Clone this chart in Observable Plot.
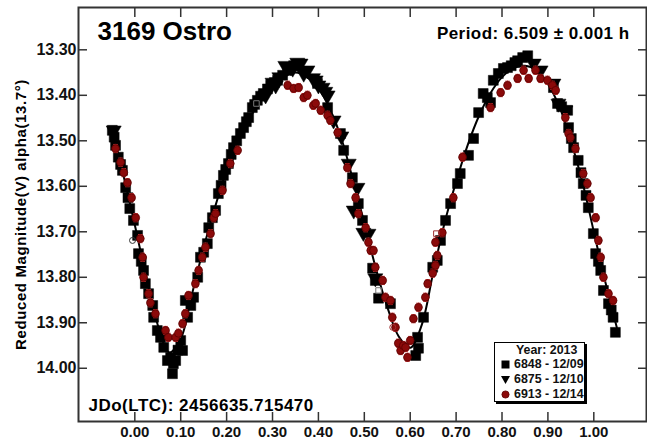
<!DOCTYPE html>
<html><head><meta charset="utf-8">
<script src="https://cdn.jsdelivr.net/npm/d3@7"></script>
<script src="https://cdn.jsdelivr.net/npm/@observablehq/plot@0.6"></script>
<style>
body{margin:0;background:#fff;}
#wrap{position:relative;width:647px;height:440px;font-family:"Liberation Sans",Arial,sans-serif;font-weight:bold;color:#111;}
#legend{position:absolute;left:494px;top:342px;width:91px;height:60px;border:1px solid #000;background:#fff;box-shadow:2px 2px 0 #000;font-size:12.4px;line-height:15px;box-sizing:border-box;}
#legend .hd{position:absolute;left:21px;top:0px;white-space:nowrap;}
#legend .row{position:absolute;left:6px;white-space:nowrap;display:flex;align-items:center;}
#legend svg{margin-right:4px;}
</style></head><body><div id="wrap"></div>
<script>
const titleText = "3169 Ostro";
const periodText = "Period: 6.509 \u00b1 0.001 h";
const epochText = "JDo(LTC): 2456635.715470";
const yTitle = "Reduced Magnitude(V) alpha(13.7\u00b0)";
const legendTitle = "Year: 2013";
const legendLabels = ["6848 - 12/09", "6875 - 12/10", "6913 - 12/14"];
const xTicks = [0, 0.1, 0.2, 0.3, 0.4, 0.5, 0.6, 0.7, 0.8, 0.9, 1.0];
const yTicks = [13.3, 13.4, 13.5, 13.6, 13.7, 13.8, 13.9, 14.0];

// series 6848 (squares): [phase, mag]
const squares = [[-0.049,13.477],[-0.045,13.492],[-0.042,13.510],[-0.036,13.536],[-0.031,13.552],[-0.027,13.565],[-0.020,13.603],[-0.015,13.625],[-0.011,13.649],[-0.003,13.675],[0.006,13.708],[0.008,13.748],[0.014,13.765],[0.019,13.785],[0.023,13.814],[0.030,13.836],[0.039,13.862],[0.041,13.888],[0.049,13.917],[0.056,13.932],[0.063,13.954],[0.071,13.983],[0.078,13.976],[0.084,13.990],[0.082,14.012],[0.089,13.983],[0.094,13.960],[0.104,13.961],[0.100,13.939],[0.110,13.851],[0.115,13.888],[0.122,13.862],[0.128,13.844],[0.137,13.800],[0.143,13.756],[0.150,13.745],[0.158,13.726],[0.161,13.691],[0.169,13.669],[0.176,13.653],[0.182,13.616],[0.188,13.598],[0.193,13.576],[0.198,13.563],[0.204,13.550],[0.210,13.530],[0.215,13.515],[0.222,13.500],[0.230,13.484],[0.237,13.471],[0.243,13.458],[0.248,13.449],[0.256,13.427],[0.261,13.420],[0.267,13.411],[0.274,13.402],[0.280,13.396],[0.289,13.386],[0.296,13.378],[0.304,13.372],[0.311,13.367],[0.322,13.356],[0.333,13.345],[0.346,13.335],[0.398,13.374],[0.420,13.427],[0.448,13.484],[0.455,13.521],[0.474,13.581],[0.487,13.638],[0.496,13.675],[0.518,13.780],[0.524,13.807],[0.531,13.846],[0.557,13.858],[0.616,13.932],[0.618,13.956],[0.612,13.972],[0.629,13.888],[0.649,13.778],[0.659,13.763],[0.666,13.719],[0.677,13.675],[0.688,13.638],[0.703,13.594],[0.709,13.572],[0.727,13.532],[0.738,13.495],[0.749,13.438],[0.759,13.396],[0.768,13.405],[0.775,13.416],[0.781,13.367],[0.792,13.352],[0.803,13.341],[0.812,13.339],[0.820,13.335],[0.828,13.328],[0.834,13.324],[0.845,13.317],[0.856,13.313],[0.912,13.383],[0.921,13.418],[0.930,13.425],[0.943,13.433],[0.945,13.471],[0.951,13.495],[0.956,13.515],[0.966,13.543],[0.972,13.570],[0.977,13.594],[0.983,13.620],[0.988,13.647],[0.999,13.704],[1.004,13.748],[1.010,13.765],[1.015,13.785],[1.021,13.829],[1.032,13.858],[1.038,13.872],[1.042,13.888],[1.047,13.921]];

// series 6875 (triangles)
const triangles = [[-0.046,13.477],[0.285,13.400],[0.300,13.372],[0.307,13.378],[0.315,13.360],[0.328,13.335],[0.340,13.338],[0.344,13.341],[0.354,13.328],[0.361,13.330],[0.368,13.352],[0.376,13.345],[0.388,13.362],[0.394,13.367],[0.400,13.378],[0.409,13.383],[0.415,13.392],[0.420,13.400],[0.433,13.455],[0.450,13.490],[0.466,13.550],[0.477,13.653],[0.485,13.603],[0.498,13.702],[0.509,13.704],[0.524,13.802],[0.869,13.330],[0.884,13.345],[0.912,13.374],[0.923,13.418],[0.938,13.433]];

// series 6913 (circles with error bars)
const circles = [[-0.042,13.517],[-0.031,13.547],[-0.024,13.570],[-0.016,13.592],[-0.007,13.625],[0.002,13.669],[0.012,13.715],[0.017,13.756],[0.019,13.800],[0.030,13.836],[0.034,13.856],[0.045,13.880],[0.067,13.917],[0.073,13.932],[0.089,13.932],[0.095,13.923],[0.104,13.902],[0.110,13.880],[0.117,13.840],[0.132,13.814],[0.139,13.785],[0.147,13.756],[0.154,13.734],[0.165,13.704],[0.172,13.669],[0.176,13.660],[0.191,13.609],[0.208,13.550],[0.224,13.521],[0.333,13.378],[0.346,13.385],[0.357,13.383],[0.368,13.405],[0.376,13.400],[0.389,13.422],[0.394,13.418],[0.405,13.433],[0.420,13.444],[0.426,13.455],[0.442,13.482],[0.463,13.559],[0.470,13.594],[0.481,13.625],[0.487,13.660],[0.503,13.691],[0.509,13.723],[0.514,13.741],[0.520,13.741],[0.524,13.778],[0.540,13.807],[0.546,13.844],[0.557,13.851],[0.561,13.888],[0.568,13.910],[0.574,13.945],[0.579,13.961],[0.585,13.950],[0.590,13.954],[0.594,13.976],[0.600,13.939],[0.607,13.891],[0.618,13.866],[0.633,13.844],[0.638,13.814],[0.649,13.791],[0.655,13.774],[0.659,13.752],[0.655,13.723],[0.670,13.702],[0.694,13.625],[0.714,13.536],[0.775,13.427],[0.797,13.394],[0.812,13.378],[0.834,13.363],[0.847,13.345],[0.858,13.363],[0.873,13.345],[0.884,13.363],[0.899,13.367],[0.910,13.378],[0.917,13.389],[0.938,13.449],[0.945,13.484],[0.949,13.493],[0.960,13.517],[0.977,13.572],[0.986,13.594],[0.993,13.625],[1.004,13.669],[1.010,13.719],[1.015,13.756],[1.021,13.800],[1.032,13.836],[1.042,13.851]];
const circleErr = 0.009;

// rejected (hollow) points: [phase, mag, kind]
const rejected = [[-0.005,13.719,"c-black"],[0.265,13.418,"s-gray"],[0.531,13.829,"s-gray"],[0.562,13.910,"c-red"],[0.657,13.704,"s-red"]];

// Fourier fit curve
const fit = [[-0.05,13.475],[-0.025,13.575],[0.0,13.685],[0.025,13.80],[0.05,13.905],[0.075,13.965],[0.10,13.935],[0.125,13.835],[0.15,13.735],[0.175,13.645],[0.20,13.565],[0.225,13.50],[0.25,13.45],[0.275,13.41],[0.30,13.38],[0.325,13.36],[0.35,13.35],[0.375,13.36],[0.40,13.385],[0.425,13.43],[0.45,13.495],[0.475,13.585],[0.50,13.68],[0.525,13.78],[0.55,13.865],[0.575,13.93],[0.60,13.955],[0.625,13.905],[0.65,13.79],[0.675,13.68],[0.70,13.59],[0.725,13.51],[0.75,13.445],[0.775,13.395],[0.80,13.36],[0.825,13.34],[0.85,13.335],[0.875,13.345],[0.90,13.375],[0.925,13.425],[0.95,13.50],[0.975,13.59],[1.0,13.70],[1.025,13.81],[1.05,13.91]];

const RED = "#8b0a0a", REDBAR = "#c03030", AX = "#333";
const capW = 0.005;

const chart = Plot.plot({
  width: 647, height: 440,
  marginLeft: 78, marginRight: 1, marginTop: 7, marginBottom: 19,
  x: {domain: [-0.1227, 1.1148]},
  y: {domain: [13.207, 14.117], reverse: true},
  style: {fontFamily: "'Liberation Sans', Arial, sans-serif", fontWeight: "bold", fontSize: "16px", color: "#111", background: "#fff", overflow: "visible"},
  marks: [
    Plot.frame({stroke: AX, strokeWidth: 2}),
    Plot.axisX({anchor: "bottom", ticks: xTicks, tickSize: -9, tickPadding: 14, tickFormat: d => d.toFixed(2), stroke: AX, strokeWidth: 1.5, label: null, fontSize: 15}),
    Plot.axisX({anchor: "top", ticks: xTicks, tickSize: -9, tickFormat: () => "", stroke: AX, strokeWidth: 1.5, label: null}),
    Plot.axisY({anchor: "left", ticks: yTicks, tickSize: -9, tickPadding: 11, tickFormat: d => d.toFixed(2), stroke: AX, strokeWidth: 1.5, label: null, fontSize: 16}),
    Plot.axisY({anchor: "right", ticks: yTicks, tickSize: -9, tickFormat: () => "", stroke: AX, strokeWidth: 1.5, label: null}),
    Plot.dot(squares, {x: d => d[0], y: d => d[1], symbol: "square", r: 5.6, fill: "#000", stroke: "#000", strokeWidth: 0.5}),
    Plot.dot(triangles, {x: d => d[0], y: d => d[1], symbol: "triangle", rotate: 180, r: 5.6, fill: "#000", stroke: "#000", strokeWidth: 0.5}),
    Plot.line(fit, {x: d => d[0], y: d => d[1], curve: "catmull-rom", stroke: "#000", strokeWidth: 2}),
    Plot.ruleX(circles, {x: d => d[0], y1: d => d[1] - circleErr, y2: d => d[1] + circleErr, stroke: REDBAR, strokeWidth: 1}),
    Plot.link(circles, {x1: d => d[0] - capW, x2: d => d[0] + capW, y1: d => d[1] - circleErr, y2: d => d[1] - circleErr, stroke: REDBAR, strokeWidth: 1}),
    Plot.link(circles, {x1: d => d[0] - capW, x2: d => d[0] + capW, y1: d => d[1] + circleErr, y2: d => d[1] + circleErr, stroke: REDBAR, strokeWidth: 1}),
    Plot.dot(circles, {x: d => d[0], y: d => d[1], r: 3.9, fill: RED, stroke: "#5a0000", strokeWidth: 0.8}),
    Plot.dot(rejected, {x: d => d[0], y: d => d[1], symbol: d => d[2].startsWith("c") ? "circle" : "square", r: d => d[2].startsWith("c") ? 6.5 : 7,
      fill: "none", stroke: d => d[2].endsWith("red") ? "#a03030" : (d[2].endsWith("gray") ? "#777" : "#333"), strokeWidth: 1}),
    Plot.text([titleText], {frameAnchor: "top-left", dx: 19, dy: 14, text: d => d, textAnchor: "start", lineAnchor: "top", fontSize: 26, fontWeight: "bold", fill: "#000", style: "letter-spacing:0.5px"}),
    Plot.text([periodText], {frameAnchor: "top-right", dx: -17, dy: 19, text: d => d, textAnchor: "end", lineAnchor: "top", fontSize: 17, fontWeight: "bold", fill: "#000"}),
    Plot.text([epochText], {frameAnchor: "bottom-left", dx: 10, dy: -11, text: d => d, textAnchor: "start", lineAnchor: "bottom", fontSize: 17, fontWeight: "bold", fill: "#000"}),
    Plot.text([yTitle], {frameAnchor: "left", dx: -57, text: d => d, rotate: -90, textAnchor: "middle", lineAnchor: "middle", fontSize: 15, fontWeight: "bold", fill: "#000"})
  ]
});
const wrap = document.getElementById("wrap");
wrap.appendChild(chart);
// small letter-spacing to match the reference's wider bold text
chart.querySelectorAll("text").forEach(t => {
  const s = t.textContent;
  if (s === periodText) t.setAttribute("letter-spacing", "0.45");
  else if (s === epochText) t.setAttribute("letter-spacing", "0.5");
  else if (s === yTitle) t.setAttribute("letter-spacing", "0.6");
});

// legend (HTML overlay)
const symSvg = [
  '<svg width="9" height="9"><rect x="0.5" y="0.5" width="8" height="8" fill="#000"/></svg>',
  '<svg width="9" height="9"><path d="M0,1 L9,1 L4.5,9 Z" fill="#000"/></svg>',
  '<svg width="9" height="9"><circle cx="4.5" cy="4.5" r="3.6" fill="' + RED + '" stroke="#5a0000" stroke-width="0.8"/></svg>'
];
const lg = document.createElement("div");
lg.id = "legend";
lg.innerHTML = '<div class="hd">' + legendTitle + '</div>' + legendLabels.map((t, i) => '<div class="row" style="top:' + (14 + 15 * i) + 'px">' + symSvg[i] + '<span>' + t + '</span></div>').join("");
wrap.appendChild(lg);
</script>
</body></html>
